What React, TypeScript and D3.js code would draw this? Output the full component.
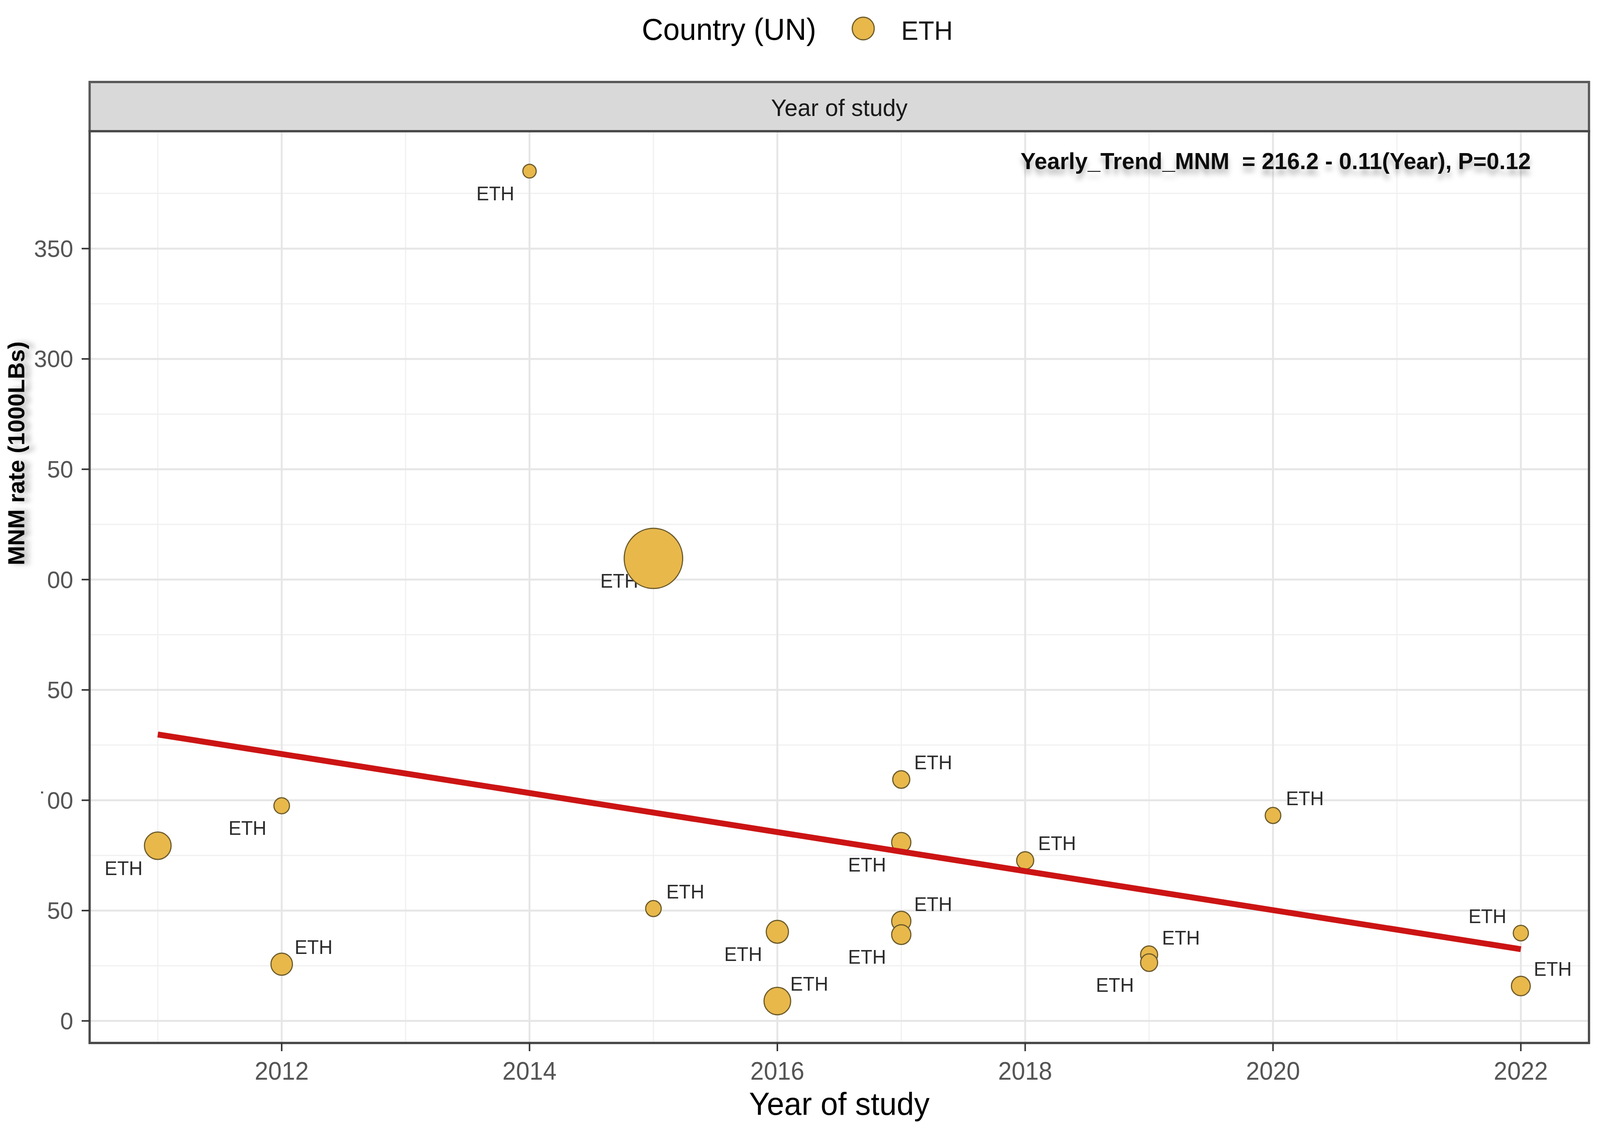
import React from 'react';
import * as d3 from 'd3';

// study year, MNM rate per 1000 live births, relative study size, country
const studyYears = [2011, 2012, 2012, 2014, 2015, 2015, 2016, 2016, 2017, 2017, 2017, 2017, 2018, 2019, 2019, 2020, 2022, 2022];
const mnmRates = [79.4, 97.5, 25.7, 385.1, 209.6, 50.9, 40.4, 9.0, 109.4, 80.9, 45.2, 39.1, 72.7, 30.0, 26.4, 93.1, 39.8, 15.8];
const studyWeights = [20.8, 7.1, 13.5, 5.2, 100, 7.1, 14.4, 20.8, 8.5, 10.8, 10.8, 10.8, 8.5, 8.5, 8.5, 7.1, 6.7, 10.4];
const countries = ['ETH', 'ETH', 'ETH', 'ETH', 'ETH', 'ETH', 'ETH', 'ETH', 'ETH', 'ETH', 'ETH', 'ETH', 'ETH', 'ETH', 'ETH', 'ETH', 'ETH', 'ETH'];
// where the text label sits relative to its point: ur = upper right, ll = lower left, ul = upper left
const labelSides = ['ll', 'll', 'ur', 'll', 'll', 'ur', 'll', 'ur', 'ur', 'll', 'ur', 'll', 'ur', 'ur', 'll', 'ur', 'ul', 'ur'];

// fitted yearly trend
const trendYears = [2011, 2022];
const trendValues = [129.8, 32.5];

const xTicks = [2012, 2014, 2016, 2018, 2020, 2022];
const yTicks = [0, 50, 100, 150, 200, 250, 300, 350];
const yTickLabels = ['0', '50', '\u02D900', '50', '00', '50', '300', '350'];

const W = 4213;
const H = 2899;
const panel = { left: 236, right: 4184, top: 336, bottom: 2671 };
const stripTop = 210;
const font = '"Liberation Sans", Arial, Helvetica, sans-serif';
const pointFill = '#E8B84B';
const pointStroke = '#6b5a2a';

const labelOffset: Record<string, [number, number]> = {
  ur: [84, -44],
  ll: [-90, 57],
  ul: [-88, -43],
};

const App: React.FC = () => {
  const x = d3.scaleLinear().domain([2010.45, 2022.55]).range([panel.left, panel.right]);
  const y = d3.scaleLinear().domain([-10, 403.2]).range([panel.bottom, panel.top]);
  const r = d3.scaleSqrt().domain([0, 100]).range([0, 77]);

  const xMinor = d3.range(2011, 2023, 2);
  const yMinor = d3.range(25, 400, 50);

  const points = studyYears.map((yr, i) => ({
    year: yr,
    rate: mnmRates[i],
    weight: studyWeights[i],
    country: countries[i],
    side: labelSides[i],
  }));

  const trend = d3.line<number>()
    .x((_, i) => x(trendYears[i]))
    .y(d => y(d));

  // the svg is stretched to whatever the viewport really is, so nothing gets cut at the edges
  return (
    <div style={{ position: 'fixed', left: 0, top: 0, width: '100vw', height: '100vh', background: '#fff' }}>
      <svg width="100%" height="100%" viewBox={`0 0 ${W} ${H}`} preserveAspectRatio="none"
        style={{ display: 'block', background: '#fff' }}>
        <defs>
          <filter id="shadow" x="-5%" y="-40%" width="110%" height="200%">
            <feDropShadow dx="0" dy="14" stdDeviation="7" floodColor="#000" floodOpacity="0.3" />
          </filter>
          <clipPath id="panelClip">
            <rect x={panel.left} y={panel.top} width={panel.right - panel.left} height={panel.bottom - panel.top} />
          </clipPath>
        </defs>
        <rect x={0} y={0} width={W} height={H} fill="#fff" />

        {/* legend */}
        <text x={1690} y={102} fontFamily={font} fontSize={78} fill="#000">Country (UN)</text>
        <circle cx={2273} cy={73} r={29} fill={pointFill} stroke={pointStroke} strokeWidth={3} />
        <text x={2373} y={102} fontFamily={font} fontSize={68} fill="#1a1a1a">ETH</text>

        {/* facet strip */}
        <rect x={panel.left} y={stripTop} width={panel.right - panel.left} height={panel.top - stripTop}
          fill="#d9d9d9" stroke="#5a5a5a" strokeWidth={6} />
        <text x={(panel.left + panel.right) / 2} y={(stripTop + panel.top) / 2 + 3} textAnchor="middle"
          dominantBaseline="central" fontFamily={font} fontSize={62} fill="#1a1a1a">Year of study</text>

        {/* grid */}
        <g clipPath="url(#panelClip)">
          {yMinor.map(v => (
            <line key={`ym${v}`} x1={panel.left} x2={panel.right} y1={y(v)} y2={y(v)} stroke="#f0f0f0" strokeWidth={3} />
          ))}
          {xMinor.map(v => (
            <line key={`xm${v}`} x1={x(v)} x2={x(v)} y1={panel.top} y2={panel.bottom} stroke="#f0f0f0" strokeWidth={3} />
          ))}
          {yTicks.map(v => (
            <line key={`yM${v}`} x1={panel.left} x2={panel.right} y1={y(v)} y2={y(v)} stroke="#e6e6e6" strokeWidth={5} />
          ))}
          {xTicks.map(v => (
            <line key={`xM${v}`} x1={x(v)} x2={x(v)} y1={panel.top} y2={panel.bottom} stroke="#e6e6e6" strokeWidth={5} />
          ))}
        </g>

        {/* labels, then points, then trend line */}
        <g clipPath="url(#panelClip)">
          {points.map((d, i) => {
            const [dx, dy] = labelOffset[d.side];
            return (
              <text key={`lab${i}`} x={x(d.year) + dx} y={y(d.rate) + dy} textAnchor="middle" dominantBaseline="central"
                fontFamily={font} fontSize={50} fill="#2b2b2b">{d.country}</text>
            );
          })}
          {points.map((d, i) => (
            <circle key={`pt${i}`} cx={x(d.year)} cy={y(d.rate)} r={r(d.weight)}
              fill={pointFill} stroke={pointStroke} strokeWidth={3} />
          ))}
          <path d={trend(trendValues) || ''} fill="none" stroke="#cc1414" strokeWidth={15} />
        </g>

        {/* regression annotation */}
        <text x={4031} y={433} textAnchor="end" fontFamily={font} fontSize={60} fontWeight="bold" fill="#111"
          filter="url(#shadow)" style={{ whiteSpace: 'pre' }}>Yearly_Trend_MNM  = 216.2 - 0.11(Year), P=0.12</text>

        {/* panel border */}
        <rect x={panel.left} y={panel.top} width={panel.right - panel.left} height={panel.bottom - panel.top}
          fill="none" stroke="#4a4a4a" strokeWidth={6} />

        {/* y axis */}
        {yTicks.map((v, i) => (
          <g key={`yt${v}`}>
            <line x1={panel.left - 21} x2={panel.left} y1={y(v)} y2={y(v)} stroke="#333" strokeWidth={4} />
            <text x={193} y={y(v)} textAnchor="end" dominantBaseline="central" fontFamily={font} fontSize={62}
              fill="#555">{yTickLabels[i]}</text>
          </g>
        ))}

        {/* x axis */}
        {xTicks.map(v => (
          <g key={`xt${v}`}>
            <line x1={x(v)} x2={x(v)} y1={panel.bottom} y2={panel.bottom + 21} stroke="#333" strokeWidth={4} />
            <text x={x(v)} y={2765} textAnchor="middle" fontFamily={font} fontSize={64} fill="#555">{v}</text>
          </g>
        ))}

        {/* axis titles */}
        <text x={(panel.left + panel.right) / 2} y={2855} textAnchor="middle" fontFamily={font} fontSize={82}
          fill="#000">Year of study</text>
        <text transform="translate(64,1161) rotate(-90)" textAnchor="middle" fontFamily={font} fontSize={60}
          fontWeight="bold" fill="#000" filter="url(#shadow)">MNM rate (1000LBs)</text>
      </svg>
    </div>
  );
};

export default App;
